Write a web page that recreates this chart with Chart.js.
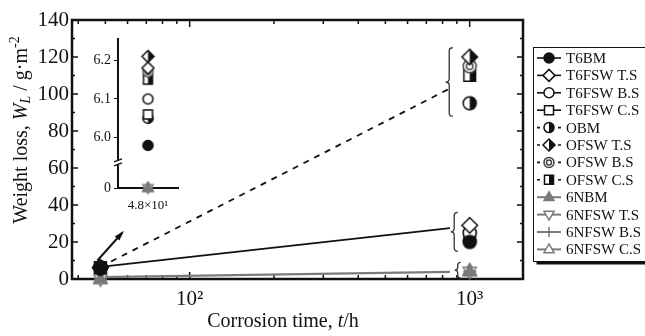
<!DOCTYPE html>
<html>
<head>
<meta charset="utf-8">
<script src="https://cdn.jsdelivr.net/npm/chart.js@4.4.1/dist/chart.umd.min.js"></script>
<style>
  body { margin: 0; background: #fff; }
  #wrap { position: relative; width: 645px; height: 336px; }
  #inset-chart { position: absolute; left: 80px; top: 28px; }
</style>
</head>
<body>
<div id="wrap">
  <canvas id="weight-chart" width="645" height="336"></canvas>
  <canvas id="inset-chart" width="110" height="187"></canvas>
</div>
<script>
// corrosion times (h)
const times = [48, 1000];

const seriesLabels = ["T6BM", "T6FSW T.S", "T6FSW B.S", "T6FSW C.S",
    "OBM", "OFSW T.S", "OFSW B.S", "OFSW C.S",
    "6NBM", "6NFSW T.S", "6NFSW B.S", "6NFSW C.S"];

// weight loss (g/m2) at 48 h and 1000 h
const t6bm    = [5.98, 20];
const t6fswTS = [6.18, 29];
const t6fswBS = [6.10, 25];
const t6fswCS = [6.06, 23];
const obm     = [6.05, 95];
const ofswTS  = [6.21, 120];
const ofswBS  = [6.17, 115];
const ofswCS  = [6.15, 110];
const n6bm    = [0, 4];
const n6fswTS = [0, 4];
const n6fswBS = [0, 4];
const n6fswCS = [0, 4.5];

// trend lines (end at the braces)
const trendTimes = [48, 850];
const trendT6 = [6.5, 27.5];
const trendO  = [6.5, 103];
const trend6N = [1, 3.8];

const xTickValues = [100, 1000];
const xTickLabels = ["10²", "10³"];
const insetTickValues = [0, 6.0, 6.1, 6.2];
const insetLabel = ["4.8×10¹"];

const seriesData = [t6bm, t6fswTS, t6fswBS, t6fswCS, obm, ofswTS, ofswBS, ofswCS,
    n6bm, n6fswTS, n6fswBS, n6fswCS];

const BLACK = "#111";
const GRAY = "#7a7a7a";
const SERIF = '"Liberation Serif", "DejaVu Serif", serif';

const markers = [
    {shape: "circle", fill: "full", color: BLACK},
    {shape: "diamond", fill: "open", color: BLACK},
    {shape: "circle", fill: "open", color: BLACK},
    {shape: "square", fill: "open", color: BLACK},
    {shape: "circle", fill: "half", color: BLACK},
    {shape: "diamond", fill: "half", color: BLACK},
    {shape: "circle", fill: "double", color: "#444"},
    {shape: "square", fill: "half", color: BLACK},
    {shape: "triUp", fill: "full", color: GRAY},
    {shape: "triDown", fill: "open", color: GRAY},
    {shape: "plus", fill: "open", color: GRAY},
    {shape: "triUp", fill: "open", color: GRAY}
];
const lineKinds = ["t6", "t6", "t6", "t6", "o", "o", "o", "o", "n6", "n6", "n6", "n6"];

function markerPath(ctx, shape, x, y, r) {
    ctx.beginPath();
    if (shape === "circle") {
        ctx.arc(x, y, r, 0, Math.PI * 2);
    } else if (shape === "diamond") {
        const d = r * 1.2;
        ctx.moveTo(x, y - d); ctx.lineTo(x + d, y); ctx.lineTo(x, y + d); ctx.lineTo(x - d, y);
        ctx.closePath();
    } else if (shape === "square") {
        const s = r * 0.9;
        ctx.rect(x - s, y - s, 2 * s, 2 * s);
    } else if (shape === "triUp") {
        ctx.moveTo(x, y - r * 1.1); ctx.lineTo(x + r, y + r * 0.65); ctx.lineTo(x - r, y + r * 0.65);
        ctx.closePath();
    } else if (shape === "triDown") {
        ctx.moveTo(x, y + r * 1.1); ctx.lineTo(x + r, y - r * 0.65); ctx.lineTo(x - r, y - r * 0.65);
        ctx.closePath();
    }
}

function drawMarker(ctx, m, x, y, r) {
    ctx.save();
    ctx.lineWidth = 1.5;
    ctx.strokeStyle = m.color;
    if (m.shape === "plus") {
        ctx.beginPath();
        ctx.moveTo(x - r, y); ctx.lineTo(x + r, y);
        ctx.moveTo(x, y - r); ctx.lineTo(x, y + r);
        ctx.stroke();
        ctx.restore();
        return;
    }
    markerPath(ctx, m.shape, x, y, r);
    if (m.fill === "full") {
        ctx.fillStyle = m.color;
        ctx.fill();
    } else {
        ctx.fillStyle = "#fff";
        ctx.fill();
        if (m.fill === "half") {
            ctx.save();
            ctx.clip();
            ctx.fillStyle = m.color;
            ctx.fillRect(x, y - r * 2, r * 2, r * 4);
            ctx.restore();
            markerPath(ctx, m.shape, x, y, r);
        }
    }
    ctx.stroke();
    if (m.fill === "double") {
        ctx.beginPath();
        ctx.arc(x, y, r * 0.5, 0, Math.PI * 2);
        ctx.stroke();
    }
    ctx.restore();
}

function markerImage(m, r) {
    const size = Math.ceil(r * 2.6 + 4);
    const c = document.createElement("canvas");
    c.width = size; c.height = size;
    drawMarker(c.getContext("2d"), m, size / 2, size / 2, r);
    return c;
}

function drawRuns(ctx, runs, cx, cy) {
    let total = 0;
    runs.forEach(run => { ctx.font = run.font; total += ctx.measureText(run.text).width; });
    let x = cx - total / 2;
    ctx.textAlign = "left";
    ctx.textBaseline = "middle";
    runs.forEach(run => {
        ctx.font = run.font;
        ctx.fillText(run.text, x, cy + (run.dy || 0));
        x += ctx.measureText(run.text).width;
    });
}

function drawBrace(ctx, x, y1, y2, w) {
    const ym = (y1 + y2) / 2;
    const h = w / 2;
    ctx.beginPath();
    ctx.moveTo(x + w, y1);
    ctx.quadraticCurveTo(x + h, y1, x + h, y1 + h);
    ctx.lineTo(x + h, ym - h);
    ctx.quadraticCurveTo(x + h, ym, x, ym);
    ctx.quadraticCurveTo(x + h, ym, x + h, ym + h);
    ctx.lineTo(x + h, y2 - h);
    ctx.quadraticCurveTo(x + h, y2, x + w, y2);
    ctx.stroke();
}

const framePlugin = {
    id: "frame",
    beforeDatasetsDraw(chart) {
        const ctx = chart.ctx;
        const {left, right, top, bottom} = chart.chartArea;
        const xs = chart.scales.x;
        const ys = chart.scales.y;
        ctx.save();
        ctx.strokeStyle = BLACK;
        ctx.lineWidth = 1.5;
        ctx.beginPath();
        for (let v = 0; v <= 140; v += 10) {
            const y = ys.getPixelForValue(v);
            const len = v % 20 === 0 ? 6 : 3;
            ctx.moveTo(left, y); ctx.lineTo(left + len, y);
            ctx.moveTo(right, y); ctx.lineTo(right - len, y);
        }
        for (let k = 10; k <= 1000; k *= 10) {
            for (let m = 1; m <= 9; m++) {
                const v = m * k;
                if (v <= xs.min || v >= xs.max) continue;
                const x = xs.getPixelForValue(v);
                const len = m === 1 ? 7 : 4;
                ctx.moveTo(x, bottom); ctx.lineTo(x, bottom - len);
                ctx.moveTo(x, top); ctx.lineTo(x, top + len);
            }
        }
        ctx.stroke();
        ctx.lineWidth = 2.5;
        ctx.strokeRect(left, top, right - left, bottom - top);
        ctx.restore();
    },
    afterDraw(chart) {
        const ctx = chart.ctx;
        const xs = chart.scales.x;
        const ys = chart.scales.y;
        const x1000 = xs.getPixelForValue(1000);
        ctx.save();

        // braces round the 1000 h groups
        ctx.strokeStyle = "#333";
        ctx.lineWidth = 1.3;
        drawBrace(ctx, x1000 - 24, ys.getPixelForValue(125), ys.getPixelForValue(88), 7);
        drawBrace(ctx, x1000 - 19, ys.getPixelForValue(36), ys.getPixelForValue(15), 7);
        drawBrace(ctx, x1000 - 15, ys.getPixelForValue(9), ys.getPixelForValue(0.5), 6);

        // arrow from the 48 h group to the inset
        const ax = xs.getPixelForValue(48) - 3;
        const ay = ys.getPixelForValue(10);
        const bx = 122, by = 233;
        ctx.strokeStyle = BLACK;
        ctx.fillStyle = BLACK;
        ctx.lineWidth = 2;
        ctx.beginPath();
        ctx.moveTo(ax, ay); ctx.lineTo(bx, by);
        ctx.stroke();
        const ang = Math.atan2(by - ay, bx - ax);
        ctx.beginPath();
        ctx.moveTo(bx + 3 * Math.cos(ang), by + 3 * Math.sin(ang));
        ctx.lineTo(bx - 8 * Math.cos(ang - 0.4), by - 8 * Math.sin(ang - 0.4));
        ctx.lineTo(bx - 8 * Math.cos(ang + 0.4), by - 8 * Math.sin(ang + 0.4));
        ctx.closePath();
        ctx.fill();

        // axis titles
        ctx.fillStyle = BLACK;
        drawRuns(ctx, [
            {text: "Corrosion time, ", font: "20px " + SERIF},
            {text: "t", font: "italic 20px " + SERIF},
            {text: "/h", font: "20px " + SERIF}
        ], 283, 322);
        ctx.save();
        ctx.translate(22, 130);
        ctx.rotate(-Math.PI / 2);
        drawRuns(ctx, [
            {text: "Weight loss, ", font: "20px " + SERIF},
            {text: "W", font: "italic 20px " + SERIF},
            {text: "L", font: "italic 14px " + SERIF, dy: 4},
            {text: " / g·m", font: "20px " + SERIF},
            {text: "-2", font: "14px " + SERIF, dy: -7}
        ], 0, 0);
        ctx.restore();

        // legend box
        const lx = 533.5, ly = 47.5, lw = 115, lh = 214;
        ctx.fillStyle = "#fff";
        ctx.fillRect(lx, ly, lw, lh);
        ctx.fillStyle = BLACK;
        ctx.fillRect(lx + 3, ly + lh, lw, 3);
        ctx.lineWidth = 1;
        ctx.strokeStyle = BLACK;
        ctx.strokeRect(lx, ly, lw, lh);
        seriesLabels.forEach((label, i) => {
            const y = 58 + i * 17.4;
            const kind = lineKinds[i];
            ctx.save();
            ctx.lineWidth = kind === "n6" ? 2 : 1.6;
            ctx.strokeStyle = kind === "n6" ? GRAY : BLACK;
            if (kind === "o") ctx.setLineDash([3, 4]);
            ctx.beginPath();
            ctx.moveTo(537, y); ctx.lineTo(561, y);
            ctx.stroke();
            ctx.restore();
            drawMarker(ctx, markers[i], 549, y, 5);
            ctx.fillStyle = BLACK;
            ctx.font = "15px " + SERIF;
            ctx.textAlign = "left";
            ctx.textBaseline = "middle";
            ctx.fillText(label, 566, y + 1);
        });
        ctx.restore();
    }
};

const mainDatasets = seriesData.map((vals, i) => ({
    label: seriesLabels[i],
    data: times.map((t, j) => ({x: t, y: vals[j]})),
    showLine: false,
    pointStyle: markerImage(markers[i], 6.5),
    pointRadius: 7,
    clip: false
}));
mainDatasets.push(
    {label: "T6 trend", data: trendTimes.map((t, j) => ({x: t, y: trendT6[j]})),
        showLine: true, pointRadius: 0, borderColor: BLACK, borderWidth: 1.8},
    {label: "O trend", data: trendTimes.map((t, j) => ({x: t, y: trendO[j]})),
        showLine: true, pointRadius: 0, borderColor: BLACK, borderWidth: 1.8, borderDash: [6, 6]},
    {label: "6N trend", data: trendTimes.map((t, j) => ({x: t, y: trend6N[j]})),
        showLine: true, pointRadius: 0, borderColor: GRAY, borderWidth: 2.2}
);

new Chart(document.getElementById("weight-chart").getContext("2d"), {
    type: "scatter",
    data: {datasets: mainDatasets},
    options: {
        responsive: false,
        animation: false,
        layout: {padding: {top: 20, right: 122, left: 0, bottom: 0}},
        plugins: {legend: {display: false}, tooltip: {enabled: false}},
        scales: {
            x: {
                type: "logarithmic",
                min: 38,
                max: 1550,
                afterBuildTicks: s => { s.ticks = xTickValues.map(v => ({value: v})); },
                afterFit: s => { s.height = 57; },
                grid: {display: false, drawTicks: false},
                border: {display: false},
                ticks: {
                    callback: (v, i) => xTickLabels[i],
                    autoSkip: false,
                    maxRotation: 0,
                    padding: 8,
                    color: BLACK,
                    font: {family: SERIF, size: 21}
                }
            },
            y: {
                min: 0,
                max: 140,
                afterFit: s => { s.width = 72; },
                grid: {display: false, drawTicks: false},
                border: {display: false},
                ticks: {
                    stepSize: 20,
                    padding: 3,
                    color: BLACK,
                    font: {family: SERIF, size: 21}
                }
            }
        }
    },
    plugins: [framePlugin]
});

// inset: 48 h values on a broken axis
const brokenY = v => (v < 1 ? 5.87 + v : v);

const insetPlugin = {
    id: "insetBreak",
    afterDraw(chart) {
        const ctx = chart.ctx;
        const ys = chart.scales.y;
        const x = chart.chartArea.left;
        const y = ys.getPixelForValue(5.935);
        ctx.save();
        ctx.fillStyle = "#fff";
        ctx.fillRect(x - 3, y - 2, 6, 4);
        ctx.strokeStyle = BLACK;
        ctx.lineWidth = 1.3;
        ctx.beginPath();
        ctx.moveTo(x - 4, y - 1); ctx.lineTo(x + 4, y - 4);
        ctx.moveTo(x - 4, y + 3); ctx.lineTo(x + 4, y);
        ctx.stroke();
        ctx.restore();
    }
};

new Chart(document.getElementById("inset-chart").getContext("2d"), {
    type: "line",
    data: {
        labels: insetLabel,
        datasets: seriesData.map((vals, i) => ({
            label: seriesLabels[i],
            data: [brokenY(vals[0])],
            showLine: false,
            pointStyle: markerImage(markers[i], 5),
            pointRadius: 5,
            clip: false
        }))
    },
    options: {
        responsive: false,
        animation: false,
        layout: {padding: {top: 10, right: 12, left: 0, bottom: 0}},
        plugins: {legend: {display: false}, tooltip: {enabled: false}},
        scales: {
            x: {
                offset: true,
                afterFit: s => { s.height = 27; },
                grid: {display: false},
                border: {display: true, color: BLACK, width: 2},
                ticks: {padding: 2, color: BLACK, font: {family: SERIF, size: 13}}
            },
            y: {
                min: 5.87,
                max: 6.254,
                afterFit: s => { s.width = 38; },
                afterBuildTicks: s => { s.ticks = insetTickValues.map(v => ({value: brokenY(v)})); },
                grid: {drawOnChartArea: false, drawTicks: true, tickLength: 4, color: BLACK},
                border: {display: true, color: BLACK, width: 2},
                ticks: {
                    callback: (v, i) => (i === 0 ? "0" : insetTickValues[i].toFixed(1)),
                    padding: 3,
                    color: BLACK,
                    font: {family: SERIF, size: 14}
                }
            }
        }
    },
    plugins: [insetPlugin]
});
</script>
</body>
</html>
